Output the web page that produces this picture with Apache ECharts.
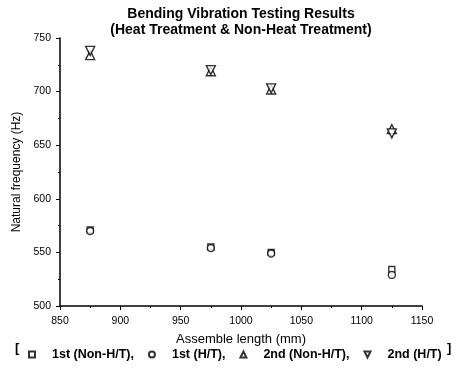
<!DOCTYPE html>
<html>
<head>
<meta charset="utf-8">
<script src="https://cdn.jsdelivr.net/npm/echarts@6/dist/echarts.min.js"></script>
<style>
  html, body { margin: 0; padding: 0; background: #fff; }
  #main { width: 456px; height: 369px; }
</style>
</head>
<body>
<div id="main"></div>
<script>
// Assemble lengths (mm)
const lengths = [875, 975, 1025, 1125];

// Natural frequencies (Hz)
const first_nonHT = [571, 555, 550, 534];
const first_HT = [570, 554, 549, 529];
const second_nonHT = [734, 719, 702, 665];
const second_HT = [738, 720, 703, 661];

const seriesNames = ['1st (Non-H/T)', '1st (H/T)', '2nd (Non-H/T)', '2nd (H/T)'];
const xTicks = { min: 850, max: 1150, step: 50 };
const yTicks = { min: 500, max: 750, step: 50 };

const FONT = '"Liberation Sans", Arial, sans-serif';
const downTriangle = 'path://M0,0 L10,0 L5,10 Z';

function pairs(vals) {
  return lengths.map((x, i) => [x, vals[i]]);
}

function scatter(name, vals, symbol, size) {
  return {
    name: name,
    type: 'scatter',
    symbol: symbol,
    symbolSize: size,
    data: pairs(vals),
    itemStyle: { color: '#fff', borderColor: '#000', borderWidth: 1.4 },
    emphasis: { disabled: true },
  };
}

const myChart = echarts.init(document.getElementById('main'));

const option = {
  animation: false,
  backgroundColor: '#fff',
  textStyle: { fontFamily: FONT, color: '#000' },
  title: {
    text: 'Bending Vibration Testing Results\n(Heat Treatment & Non-Heat Treatment)',
    left: 236,
    top: 1,
    textAlign: 'center',
    textStyle: { fontFamily: FONT, fontSize: 14, fontWeight: 'bold', color: '#000', lineHeight: 16 },
  },
  grid: { left: 60, right: 34, top: 38, bottom: 63 },
  xAxis: {
    type: 'value',
    min: xTicks.min,
    max: xTicks.max,
    interval: xTicks.step,
    name: 'Assemble length (mm)',
    nameLocation: 'middle',
    nameGap: 27,
    nameTextStyle: { fontFamily: FONT, fontSize: 13, color: '#000' },
    axisLine: { lineStyle: { color: '#000', width: 1.5 } },
    axisTick: { inside: false, length: 4, lineStyle: { color: '#000' } },
    minorTick: { show: true, splitNumber: 2, length: 2, lineStyle: { color: '#000' } },
    axisLabel: {
      fontFamily: FONT, fontSize: 10.5, color: '#000', margin: 10,
      formatter: function (v) { return String(v); },
    },
    splitLine: { show: false },
  },
  yAxis: {
    type: 'value',
    min: yTicks.min,
    max: yTicks.max,
    interval: yTicks.step,
    name: 'Natural frequency (Hz)',
    nameLocation: 'middle',
    nameGap: 33,
    nameTextStyle: { fontFamily: FONT, fontSize: 12, color: '#000' },
    axisLine: { show: true, lineStyle: { color: '#000', width: 1.5 } },
    axisTick: { show: true, inside: false, length: 4, lineStyle: { color: '#000' } },
    minorTick: { show: true, splitNumber: 2, length: 2, lineStyle: { color: '#000' } },
    axisLabel: { fontFamily: FONT, fontSize: 10.5, color: '#000', margin: 9 },
    splitLine: { show: false },
  },
  legend: {
    data: seriesNames,
    left: 23,
    top: 343,
    itemGap: 14,
    itemWidth: 6,
    itemHeight: 6,
    formatter: function (name) {
      return name === seriesNames[3] ? name : name + ',';
    },
    textStyle: { fontFamily: FONT, fontSize: 12.5, fontWeight: 'bold', color: '#000', padding: [0, 0, 0, 12] },
  },
  graphic: [
    { type: 'text', left: 15, top: 342, style: { text: '[', font: 'bold 13px ' + FONT, fill: '#000' } },
    { type: 'text', left: 447, top: 342, style: { text: ']', font: 'bold 13px ' + FONT, fill: '#000' } },
  ],
  series: [
    scatter(seriesNames[0], first_nonHT, 'rect', 6),
    scatter(seriesNames[1], first_HT, 'circle', 7),
    scatter(seriesNames[2], second_nonHT, 'triangle', 9),
    scatter(seriesNames[3], second_HT, downTriangle, 9),
  ],
};

myChart.setOption(option);
</script>
</body>
</html>
